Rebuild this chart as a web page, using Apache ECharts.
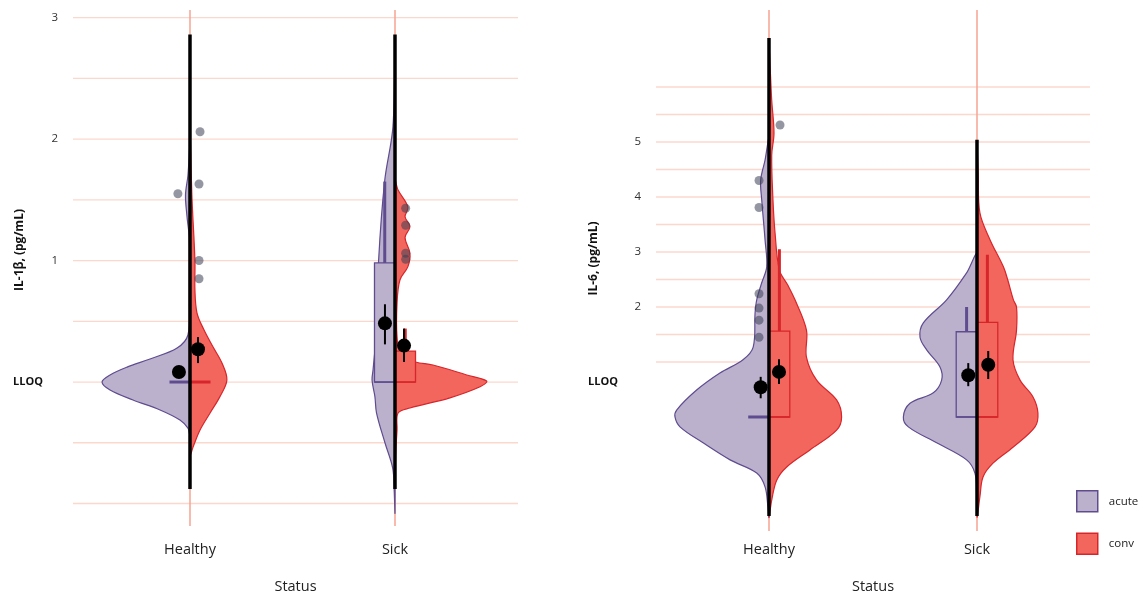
<!DOCTYPE html>
<html>
<head>
<meta charset="utf-8">
<title>IL-1β / IL-6 by status</title>
<script src="https://cdn.jsdelivr.net/npm/echarts@6/dist/echarts.min.js"></script>
<style>
  html, body { margin: 0; padding: 0; background: #fff; }
  #chart { width: 1143px; height: 594px; }
</style>
</head>
<body>
<div id="chart"></div>
<script>
// x positions: 1 = Healthy, 2 = Sick
const categories = ['Healthy', 'Sick']
const catPos = [1, 2]

// IL-1β panel
// violin outlines, top to bottom: [value, half width]
const il1bHealthyAcute = [[1.95, 0], [1.70, 0.010], [1.54, 0.022], [1.37, 0.015], [1.17, 0.003], [0.67, 0.002], [0.387, 0.01], [0.28, 0.063], [0.19, 0.195], [0.123, 0.307], [0.058, 0.39], [0, 0.429], [-0.066, 0.39], [-0.148, 0.278], [-0.23, 0.146], [-0.313, 0.049], [-0.38, 0.01], [-0.44, 0]]
const il1bHealthyConv = [[2.03, 0], [1.5, 0.01], [1.0, 0.024], [0.76, 0.024], [0.57, 0.034], [0.43, 0.068], [0.29, 0.112], [0.156, 0.156], [0.016, 0.18], [-0.12, 0.146], [-0.255, 0.098], [-0.395, 0.049], [-0.535, 0.015], [-0.6, 0]]
const il1bSickAcute = [[2.79, 0], [2.1, 0.01], [1.66, 0.05], [1.0, 0.08], [0.43, 0.09], [0.1, 0.107], [0.016, 0.112], [-0.12, 0.098], [-0.255, 0.09], [-0.5, 0.049], [-0.71, 0.011], [-0.89, 0.004], [-1.07, 0]]
const il1bSickConv = [[1.66, 0], [1.58, 0.015], [1.44, 0.063], [1.36, 0.049], [1.28, 0.073], [1.19, 0.049], [1.06, 0.073], [0.95, 0.063], [0.84, 0.024], [0.65, 0.01], [0.37, 0.01], [0.22, 0.03], [0.165, 0.1], [0.14, 0.185], [0.058, 0.35], [0.008, 0.447], [-0.039, 0.415], [-0.13, 0.268], [-0.214, 0.073], [-0.255, 0.015], [-0.395, 0.01], [-0.535, 0.005], [-0.72, 0]]
// boxes: [category, q1, median, q3, upper whisker]
const il1bBoxAcute = [[1, 0, 0, 0, 0], [2, 0, 0, 0.98, 1.65]]
const il1bBoxConv = [[1, 0, 0, 0, 0], [2, 0, 0, 0.255, 0.44]]
// mean and error: [x, mean, low, high]
const il1bMeans = [[0.946, 0.082, 0.05, 0.11], [1.039, 0.27, 0.156, 0.37], [1.951, 0.483, 0.31, 0.64], [2.044, 0.30, 0.165, 0.44]]
// data range lines: [category, min, max]
const il1bRange = [[1, -0.88, 2.86], [2, -0.88, 2.86]]
// single observations
const il1bPoints = [[0.941, 1.55], [1.049, 2.06], [1.044, 1.63], [1.044, 1.0], [1.044, 0.85], [2.052, 1.43], [2.052, 1.29], [2.052, 1.06], [2.052, 1.01]]
const il1bBreaks = [-1, -0.5, 0, 0.5, 1, 1.5, 2, 2.5, 3]
const il1bTicks = [0, 1, 2, 3]
const il1bLloq = 0

// IL-6 panel
const il6HealthyAcute = [[5.05, 0], [4.67, 0.019], [4.31, 0.04], [3.95, 0.035], [3.22, 0.019], [2.73, 0.011], [2.44, 0.035], [2.13, 0.059], [1.89, 0.067], [1.27, 0.076], [1.04, 0.125], [0.8, 0.236], [0.49, 0.348], [0.127, 0.444], [0, 0.452], [-0.18, 0.428], [-0.47, 0.317], [-0.78, 0.187], [-1.02, 0.059], [-1.27, 0.019], [-1.64, 0.005], [-1.82, 0]]
const il6HealthyConv = [[6.67, 0], [5.76, 0.013], [5.16, 0.024], [4.76, 0.013], [3.95, 0.019], [3.35, 0.029], [2.67, 0.05], [2.4, 0.09], [2.13, 0.125], [1.58, 0.18], [1.09, 0.18], [0.67, 0.229], [0.31, 0.325], [0, 0.349], [-0.24, 0.325], [-0.6, 0.197], [-0.91, 0.085], [-1.15, 0.037], [-1.51, 0.013], [-1.8, 0]]
const il6SickAcute = [[2.95, 0], [2.62, 0.05], [2.13, 0.146], [1.71, 0.258], [1.45, 0.274], [1.22, 0.242], [0.91, 0.178], [0.67, 0.17], [0.44, 0.21], [0.25, 0.322], [0, 0.354], [-0.18, 0.33], [-0.47, 0.194], [-0.78, 0.05], [-1.02, 0.01], [-1.38, 0.002], [-1.75, 0]]
const il6SickConv = [[4.9, 0], [4.44, 0.006], [3.71, 0.014], [3.22, 0.063], [2.73, 0.127], [2.49, 0.148], [2.13, 0.175], [2.0, 0.19], [1.58, 0.19], [1.04, 0.173], [0.67, 0.207], [0.36, 0.27], [0.07, 0.293], [-0.18, 0.279], [-0.55, 0.173], [-0.84, 0.077], [-1.09, 0.029], [-1.45, 0.014], [-1.8, 0]]
const il6BoxAcute = [[1, 0, 0, 0, 0], [2, 0, 0, 1.55, 2.0]]
const il6BoxConv = [[1, 0, 0, 1.56, 3.05], [2, 0, 0, 1.72, 2.95]]
const il6Means = [[0.96, 0.54, 0.34, 0.73], [1.048, 0.82, 0.6, 1.05], [1.958, 0.76, 0.56, 0.98], [2.054, 0.95, 0.69, 1.2]]
const il6Range = [[1, -1.8, 6.89], [2, -1.8, 5.04]]
const il6Points = [[1.053, 5.31], [0.952, 4.30], [0.952, 3.81], [0.952, 2.24], [0.952, 1.98], [0.952, 1.76], [0.952, 1.45]]
const il6Breaks = [1, 1.5, 2, 2.5, 3, 3.5, 4, 4.5, 5, 5.5, 6]
const il6Ticks = [0.64, 2, 3, 4, 5]
const il6Lloq = 0.64

const acuteFill = '#bcb1cd'
const acuteLine = '#5e4c8f'
const convFill = '#f2665e'
const convLine = '#d7262b'
const font = 'Open Sans'

function hLines(g, breaks) {
  return {
    type: 'custom', xAxisIndex: g, yAxisIndex: g, z: 1, silent: true,
    data: breaks.map(b => [1, b]),
    renderItem(params, api) {
      const cs = params.coordSys
      const y = api.coord([1, api.value(1)])[1]
      return { type: 'line', shape: { x1: cs.x, y1: y, x2: cs.x + cs.width, y2: y }, style: { stroke: '#fbd8ce', lineWidth: 1.3 } }
    }
  }
}

function vLines(g) {
  return {
    type: 'custom', xAxisIndex: g, yAxisIndex: g, z: 1, silent: true,
    data: catPos.map(c => [c, 0]),
    renderItem(params, api) {
      const cs = params.coordSys
      const x = api.coord([api.value(0), 0])[0]
      return { type: 'line', shape: { x1: x, y1: cs.y, x2: x, y2: cs.y + cs.height }, style: { stroke: '#f7a393', lineWidth: 1.5 } }
    }
  }
}

// side: -1 draws to the left of the category, +1 to the right
function violin(name, g, outlines, side, fill, stroke) {
  return {
    type: 'custom', name, xAxisIndex: g, yAxisIndex: g, z: 2,
    data: catPos.map(c => [c, 0]),
    renderItem(params, api) {
      const cat = api.value(0)
      const outline = outlines[params.dataIndex]
      const pts = outline.map(([v, w]) => api.coord([cat + side * w, v]))
      return { type: 'polygon', shape: { points: pts, smooth: 0.35 }, style: { fill, stroke, lineWidth: 1.2 } }
    }
  }
}

function boxes(g, rows, side, fill, stroke) {
  const bw = 0.1
  return {
    type: 'custom', xAxisIndex: g, yAxisIndex: g, z: 3,
    data: rows,
    renderItem(params, api) {
      const cat = api.value(0)
      const q1 = api.value(1), med = api.value(2), q3 = api.value(3), hi = api.value(4)
      const a = api.coord([cat, q3])
      const b = api.coord([cat + side * bw, q1])
      const children = []
      if (hi > q3) {
        const w0 = api.coord([cat + side * bw / 2, q3])
        const w1 = api.coord([cat + side * bw / 2, hi])
        children.push({ type: 'line', shape: { x1: w0[0], y1: w0[1], x2: w1[0], y2: w1[1] }, style: { stroke, lineWidth: 3 } })
      }
      if (q3 > q1) {
        children.push({ type: 'rect', shape: { x: Math.min(a[0], b[0]), y: a[1], width: Math.abs(b[0] - a[0]), height: b[1] - a[1] }, style: { fill, stroke, lineWidth: 1.3 } })
      }
      const m0 = api.coord([cat, med])
      const m1 = api.coord([cat + side * bw, med])
      children.push({ type: 'line', shape: { x1: m0[0], y1: m0[1], x2: m1[0], y2: m1[1] }, style: { stroke, lineWidth: q3 > q1 ? 1.5 : 3 } })
      return { type: 'group', children }
    }
  }
}

function rangeLines(g, rows) {
  return {
    type: 'custom', xAxisIndex: g, yAxisIndex: g, z: 4,
    data: rows,
    renderItem(params, api) {
      const p0 = api.coord([api.value(0), api.value(1)])
      const p1 = api.coord([api.value(0), api.value(2)])
      return { type: 'line', shape: { x1: p0[0], y1: p0[1], x2: p1[0], y2: p1[1] }, style: { stroke: '#000', lineWidth: 3.5 } }
    }
  }
}

function means(g, rows) {
  return {
    type: 'custom', xAxisIndex: g, yAxisIndex: g, z: 6,
    data: rows,
    renderItem(params, api) {
      const x = api.value(0)
      const c = api.coord([x, api.value(1)])
      const lo = api.coord([x, api.value(2)])
      const hi = api.coord([x, api.value(3)])
      return {
        type: 'group',
        children: [
          { type: 'line', shape: { x1: lo[0], y1: lo[1], x2: hi[0], y2: hi[1] }, style: { stroke: '#000', lineWidth: 2 } },
          { type: 'circle', shape: { cx: c[0], cy: c[1], r: 7 }, style: { fill: '#000' } }
        ]
      }
    }
  }
}

function points(g, rows) {
  return {
    type: 'scatter', xAxisIndex: g, yAxisIndex: g, z: 5, symbolSize: 9,
    itemStyle: { color: 'rgba(58,63,84,0.68)' },
    data: rows
  }
}

function xAxis(g, min, max, margin, nameGap) {
  return {
    gridIndex: g, type: 'value', min, max,
    axisLine: { show: false }, axisTick: { show: false }, splitLine: { show: false },
    axisLabel: { customValues: catPos, formatter: v => categories[Math.round(v) - 1], margin, fontSize: 14.5, color: '#222', fontFamily: font },
    name: 'Status', nameLocation: 'middle', nameGap, nameMoveOverlap: false,
    nameTextStyle: { fontSize: 14.5, color: '#222', fontFamily: font }
  }
}

function yAxis(g, min, max, ticks, lloq, name, nameGap, lloqPad, namePad) {
  return {
    gridIndex: g, type: 'value', min, max,
    axisLine: { show: false }, axisTick: { show: false }, splitLine: { show: false },
    axisLabel: {
      customValues: ticks, margin: 15, fontSize: 11.5, color: '#333', fontFamily: font,
      formatter: v => Math.abs(v - lloq) < 1e-6 ? '{lloq|LLOQ}' : String(v),
      rich: { lloq: { fontWeight: 'bold', fontSize: 11, color: '#111', fontFamily: font, padding: [0, lloqPad, 0, 0] } }
    },
    name, nameLocation: 'middle', nameGap, nameMoveOverlap: false,
    nameTextStyle: { fontSize: 12, fontWeight: 'bold', color: '#111', fontFamily: font, padding: [0, 0, 0, namePad] }
  }
}

const chart = echarts.init(document.getElementById('chart'))
chart.setOption({
  animation: false,
  backgroundColor: '#fff',
  grid: [
    { left: 73, top: 10, width: 445, height: 516, outerBoundsMode: 'none', containLabel: false },
    { left: 656, top: 10, width: 434, height: 521, outerBoundsMode: 'none', containLabel: false }
  ],
  xAxis: [
    xAxis(0, 0.4293, 2.6, 16, 53),
    xAxis(1, 0.4567, 2.5433, 11, 48)
  ],
  yAxis: [
    yAxis(0, -1.185, 3.062, il1bTicks, il1bLloq, 'IL-1β, (pg/mL)', 47, 15, 36),
    yAxis(1, -2.073, 7.4, il6Ticks, il6Lloq, 'IL-6, (pg/mL)', 56, 23, 24)
  ],
  legend: {
    orient: 'vertical', left: 1076, top: 490, padding: 0, itemWidth: 21, itemHeight: 21, itemGap: 20,
    icon: 'rect', selectedMode: false,
    textStyle: { fontSize: 11.5, color: '#222', fontFamily: font, padding: [0, 0, 0, 6] },
    data: [
      { name: 'acute', itemStyle: { color: acuteFill, borderColor: acuteLine, borderWidth: 1.5 } },
      { name: 'conv', itemStyle: { color: convFill, borderColor: convLine, borderWidth: 1.5 } }
    ]
  },
  series: [
    hLines(0, il1bBreaks), vLines(0),
    violin('acute', 0, [il1bHealthyAcute, il1bSickAcute], -1, acuteFill, acuteLine),
    violin('conv', 0, [il1bHealthyConv, il1bSickConv], 1, convFill, convLine),
    boxes(0, il1bBoxAcute, -1, acuteFill, acuteLine),
    boxes(0, il1bBoxConv, 1, convFill, convLine),
    rangeLines(0, il1bRange),
    points(0, il1bPoints),
    means(0, il1bMeans),

    hLines(1, il6Breaks), vLines(1),
    violin('acute', 1, [il6HealthyAcute, il6SickAcute], -1, acuteFill, acuteLine),
    violin('conv', 1, [il6HealthyConv, il6SickConv], 1, convFill, convLine),
    boxes(1, il6BoxAcute, -1, acuteFill, acuteLine),
    boxes(1, il6BoxConv, 1, convFill, convLine),
    rangeLines(1, il6Range),
    points(1, il6Points),
    means(1, il6Means)
  ]
})
</script>
</body>
</html>
